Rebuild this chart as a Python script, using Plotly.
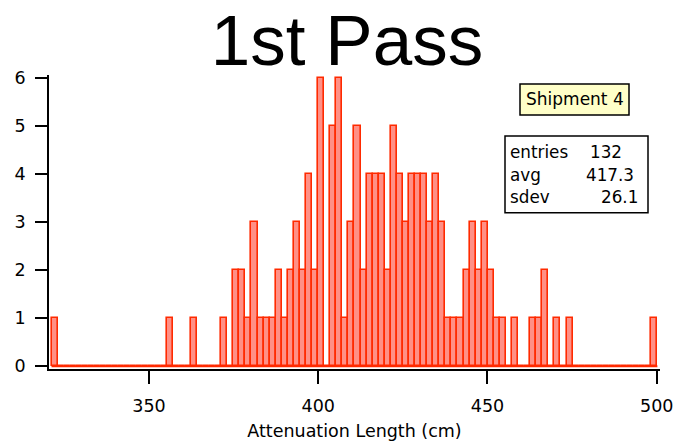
import plotly.graph_objects as go

# Histogram: 100 bins starting at BIN_START with width BIN_WIDTH
BIN_START = 321.2
BIN_WIDTH = 1.79
counts = [0] * 100
nonzero = {
    0: 1, 19: 1, 23: 1, 28: 1,
    30: 2, 31: 2, 32: 1, 33: 3, 34: 1, 35: 1, 36: 1, 37: 2, 38: 1, 39: 2,
    40: 3, 41: 2, 42: 4, 43: 2, 44: 6, 45: 0, 46: 5, 47: 6, 48: 1, 49: 3,
    50: 5, 51: 2, 52: 4, 53: 4, 54: 4, 55: 2, 56: 5, 57: 4, 58: 3, 59: 4,
    60: 4, 61: 4, 62: 3, 63: 4, 64: 3, 65: 1, 66: 1, 67: 1, 68: 2, 69: 3,
    70: 2, 71: 3, 72: 2, 73: 1, 74: 1, 76: 1, 79: 1, 80: 1, 81: 2, 83: 1,
    85: 1, 99: 1,
}
for k, v in nonzero.items():
    counts[k] = v
centers = [BIN_START + BIN_WIDTH * (i + 0.5) for i in range(len(counts))]
edges = [BIN_START, BIN_START + BIN_WIDTH * len(counts)]

x_ticks = [350, 400, 450, 500]
y_ticks = [0, 1, 2, 3, 4, 5, 6]

title_text = "1st Pass"
x_title = "Attenuation Length (cm)"
legend_text = "Shipment 4"
stat_labels = ["entries", "avg", "sdev"]
stat_values = ["132", "417.3", "26.1"]

RED = "#FF2A00"
FILL = "#FF9086"
FONT = "DejaVu Sans"

fig = go.Figure()
fig.add_trace(go.Scatter(x=edges, y=[0, 0], mode="lines",
                         line=dict(color=RED, width=2), hoverinfo="skip",
                         showlegend=False))
fig.add_trace(go.Bar(x=centers, y=counts, width=BIN_WIDTH,
                     marker=dict(color=FILL, line=dict(color=RED, width=1.6)),
                     showlegend=False))

# plot area in pixels
L, R, T, B = 49, 660, 75, 369.5
W, H = R - L, B - T
def px(x):
    return (x - L) / W
def py(y):
    return (B - y) / H

fig.update_layout(
    width=681, height=443,
    margin=dict(l=L, r=681 - R, t=T, b=443 - B),
    plot_bgcolor="white", paper_bgcolor="white",
    bargap=0,
    font=dict(family=FONT, size=17, color="black"),
    title=dict(text=title_text, x=347 / 681, xanchor="center",
               y=1 - 40 / 443, yanchor="middle",
               font=dict(family="Liberation Sans", size=71, color="black")),
    xaxis=dict(range=[320.46, 500.97], tickvals=x_ticks, ticks="outside",
               ticklen=13, tickwidth=1.5, tickcolor="black",
               showline=True, linecolor="black", linewidth=1.5,
               showgrid=False, zeroline=False, ticklabelstandoff=7,
               automargin=False,
               tickfont=dict(family=FONT, size=17.5),
               title=dict(text=x_title, font=dict(family=FONT, size=17.5), standoff=10)),
    yaxis=dict(range=[-0.058, 6.069], tickvals=y_ticks, ticks="outside",
               ticklen=12, tickwidth=1.5, tickcolor="black",
               showline=True, linecolor="black", linewidth=1.5,
               showgrid=False, zeroline=False, ticklabelstandoff=6,
               automargin=False,
               tickfont=dict(family=FONT, size=17.5)),
)

# legend-like label box
fig.add_shape(type="rect", xref="paper", yref="paper",
              x0=px(520), x1=px(629), y0=py(115), y1=py(84),
              fillcolor="#FFFFC8", line=dict(color="black", width=1.5), layer="above")
fig.add_annotation(xref="paper", yref="paper", x=px(574.5), y=py(99.5),
                   text=legend_text, showarrow=False, xanchor="center", yanchor="middle",
                   font=dict(family=FONT, size=17))

# stats box
fig.add_shape(type="rect", xref="paper", yref="paper",
              x0=px(505), x1=px(648), y0=py(213), y1=py(136),
              fillcolor="white", line=dict(color="black", width=1.5), layer="above")
line_y = [152.5, 175.5, 197.5]
value_right = [624, 636, 640]
for lab, val, yy, xr in zip(stat_labels, stat_values, line_y, value_right):
    fig.add_annotation(xref="paper", yref="paper", x=px(508), y=py(yy),
                       text=lab, showarrow=False, xanchor="left", yanchor="middle",
                       font=dict(family=FONT, size=16.8))
    fig.add_annotation(xref="paper", yref="paper", x=px(xr), y=py(yy),
                       text=val, showarrow=False, xanchor="right", yanchor="middle",
                       font=dict(family=FONT, size=16.8))

fig.write_html("out.html")
